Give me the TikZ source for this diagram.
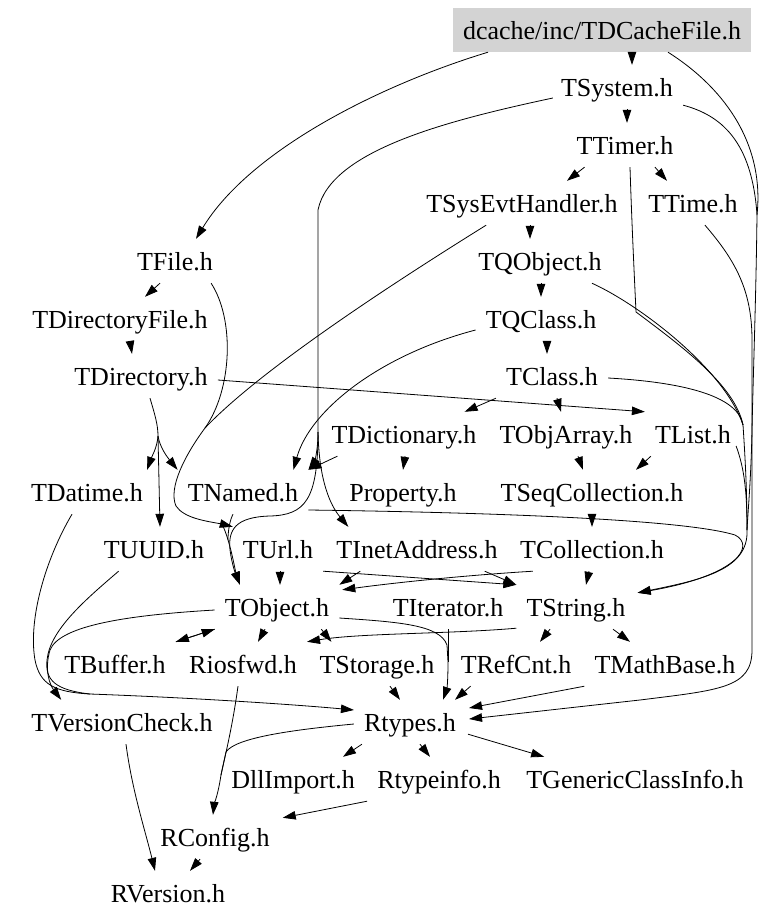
\documentclass[tikz,border=0pt]{standalone}
\usepackage{fontspec}
\setmainfont{Liberation Serif}
\usetikzlibrary{arrows.meta,calc}
\definecolor{dcgray}{RGB}{211,211,211}
\begin{document}
\begin{tikzpicture}[x=1pt,y=-1pt,
  lbl/.style={inner xsep=10pt, inner ysep=0pt, minimum height=44pt, text height=20pt, text depth=2pt, font=\fontsize{26}{30}\selectfont},
  e/.style={draw=black, line width=0.8pt, -{Triangle[length=13pt,width=8.5pt]}},
  ln/.style={draw=black, line width=0.8pt}]
\useasboundingbox (0,0) rectangle (779,921);
\fill[white] (0,0) rectangle (779,921);
% nodes
\node[lbl,fill=dcgray] (dc) at (602,30) {dcache/inc/TDCacheFile.h};
\node[lbl] (sys) at (617,87) {TSystem.h};
\node[lbl] (timer) at (625,145) {TTimer.h};
\node[lbl] (sev) at (522,203) {TSysEvtHandler.h};
\node[lbl] (ttime) at (693,203) {TTime.h};
\node[lbl] (tfile) at (175,261) {TFile.h};
\node[lbl] (qobj) at (540,261) {TQObject.h};
\node[lbl] (dirfile) at (120,319) {TDirectoryFile.h};
\node[lbl] (qclass) at (541,319) {TQClass.h};
\node[lbl] (dir) at (141,376) {TDirectory.h};
\node[lbl] (tclass) at (552,376) {TClass.h};
\node[lbl] (dict) at (404,434) {TDictionary.h};
\node[lbl] (objarr) at (566,434) {TObjArray.h};
\node[lbl] (tlist) at (693,434) {TList.h};
\node[lbl] (datime) at (87,492) {TDatime.h};
\node[lbl] (tnamed) at (243,492) {TNamed.h};
\node[lbl] (prop) at (403,492) {Property.h};
\node[lbl] (seqc) at (592,492) {TSeqCollection.h};
\node[lbl] (uuid) at (154,549) {TUUID.h};
\node[lbl] (turl) at (278,549) {TUrl.h};
\node[lbl] (inet) at (417,549) {TInetAddress.h};
\node[lbl] (coll) at (592,549) {TCollection.h};
\node[lbl] (tobj) at (277,607) {TObject.h};
\node[lbl] (iter) at (448,607) {TIterator.h};
\node[lbl] (tstr) at (576,607) {TString.h};
\node[lbl] (buf) at (115,664) {TBuffer.h};
\node[lbl] (rios) at (243,664) {Riosfwd.h};
\node[lbl] (stor) at (377,664) {TStorage.h};
\node[lbl] (refcnt) at (516,664) {TRefCnt.h};
\node[lbl] (mathb) at (665,664) {TMathBase.h};
\node[lbl] (vcheck) at (122,722) {TVersionCheck.h};
\node[lbl] (rtypes) at (410,722) {Rtypes.h};
\node[lbl] (dll) at (293,779) {DllImport.h};
\node[lbl] (rtinfo) at (439,779) {Rtypeinfo.h};
\node[lbl] (gci) at (635,779) {TGenericClassInfo.h};
\node[lbl] (rconf) at (215,837) {RConfig.h};
\node[lbl] (rver) at (168,893) {RVersion.h};
% junctions where edges run together
\coordinate (rjA) at (757,215);
\coordinate (rjB) at (743,425);
\coordinate (rjC) at (747,530);
\coordinate (sysj) at (318,432);
\coordinate (lj) at (205,428);
\coordinate (lj2) at (222,524);
\coordinate (dj) at (158,436);
\coordinate (vj) at (90,694);
\coordinate (cj) at (221,775);
\coordinate (oj) at (448,662);
% top edges
\draw[e] ($(dc.south)+(30,0)$) -- ($(sys.north)+(15,0)$);
\draw[e] ($(dc.south)+(-114,0)$) .. controls (380,85) and (250,150) .. ($(tfile.north)+(21,0)$);
\draw[ln] ($(dc.south)+(66,0)$) .. controls (720,85) and (765,140) .. (rjA);
\draw[ln] ($(sys.south east)+(0,-4)$) .. controls (720,115) and (752,140) .. (rjA);
\draw[ln] (rjA) .. controls (756,300) and (753,380) .. (752,430) .. controls (751,480) and (748,510) .. (rjC);
\draw[ln] ($(sys.west)+(2,11)$) .. controls (450,120) and (330,150) .. (318,210) -- (sysj);
\draw[e] (sysj) .. controls (319,480) and (330,505) .. ($(inet.north west)+(22,0)$);
\draw[e] (sysj) .. controls (318,452) and (314,462) .. (tnamed.north east);
\draw[e] (sysj) .. controls (318,500) and (305,515) .. (270,516) .. controls (235,517) and (228,530) .. (230,550) .. controls (232,565) and (236,575) .. ($(tobj.north)+(-37,0)$);
\draw[e] ($(sys.south)+(10,0)$) -- ($(timer.north)+(2,0)$);
\draw[e] ($(timer.south west)+(18,0)$) -- ($(sev.north)+(45,0)$);
\draw[e] ($(timer.south)+(30,0)$) -- ($(ttime.north)+(-26,0)$);
\draw[ln] ($(timer.south)+(5,0)$) .. controls (632,230) and (635,290) .. (636,312) .. controls (680,345) and (735,385) .. (rjB);
\draw[e] ($(sev.south)+(8,0)$) -- ($(qobj.north)+(-10,0)$);
\draw[ln] ($(sev.south west)+(70,0)$) .. controls (390,285) and (260,370) .. (lj);
\draw[ln] ($(tfile.south east)+(-12,0)$) .. controls (235,320) and (232,390) .. (lj);
\draw[ln] (lj) .. controls (185,455) and (168,488) .. (176,506) .. controls (184,518) and (205,521) .. (lj2);
\draw[e] (lj2) -- (turl.north west);
\draw[e] (lj2) .. controls (230,540) and (235,570) .. ($(tobj.north)+(-37,0)$);
\draw[e] ($(ttime.south)+(12,0)$) .. controls (735,260) and (752,290) .. (752,340) -- (752,650) .. controls (752,688) and (720,690) .. (640,700) -- ($(rtypes.east)+(3,-3)$);
\draw[e] ($(qobj.south)+(1,0)$) -- (qclass.north);
\draw[ln] ($(qobj.south east)+(-20,0)$) .. controls (640,305) and (725,370) .. (rjB);
\draw[e] ($(qclass.south)+(6,0)$) -- ($(tclass.north)+(-5,0)$);
\draw[e] ($(qclass.west)+(0,11)$) .. controls (380,355) and (310,410) .. ($(tnamed.north east)+(-15,0)$);
\draw[e] (tclass.south west) -- ($(dict.north east)+(-22,0)$);
\draw[e] ($(tclass.south)+(5,0)$) -- ($(objarr.north)+(-5,0)$);
\draw[ln] ($(tclass.east)+(0,2)$) .. controls (680,382) and (738,395) .. (rjB);
\draw[ln] (rjB) .. controls (746,470) and (747,500) .. (rjC);
\draw[e] (rjC) .. controls (749,570) and (700,580) .. ($(tstr.north east)+(2,8)$);
\draw[e] ($(tfile.south)+(-15,0)$) -- ($(dirfile.north)+(25,0)$);
\draw[e] ($(dirfile.south)+(10,0)$) -- ($(dir.north)+(-9,0)$);
\draw[e] ($(dir.east)+(0,4)$) -- (tlist.north west);
\draw[ln] ($(dir.south)+(9,0)$) .. controls (155,415) and (158,425) .. (dj);
\draw[e] (dj) .. controls (157,448) and (152,456) .. ($(datime.north east)+(-6,0)$);
\draw[e] (dj) .. controls (160,448) and (168,458) .. (tnamed.north west);
\draw[e] (dj) -- ($(uuid.north)+(6,0)$);
% middle
\draw[e] ($(dict.south west)+(16,0)$) -- (tnamed.north east);
\draw[e] ($(dict.south)+(1,0)$) -- (prop.north);
\draw[e] ($(objarr.south)+(12,0)$) -- ($(seqc.north)+(-9,0)$);
\draw[e] ($(tlist.south west)+(6,0)$) -- ($(seqc.north)+(44,0)$);
\draw[ln] ($(tlist.east)+(-5,12)$) .. controls (745,470) and (747,495) .. (rjC);
\draw[e] (seqc.south) -- (coll.north);
\draw[e] ($(tnamed.east)+(0,18)$) .. controls (460,512) and (680,518) .. (735,535) .. controls (755,545) and (740,575) .. ($(tstr.north east)+(2,8)$);
\draw[ln] ($(tnamed.south)+(-10,0)$) .. controls (230,520) and (228,530) .. (228,540);
\draw[e] ($(turl.south)+(2,0)$) -- ($(tobj.north)+(3,0)$);
\draw[e] (turl.south east) -- (tstr.north west);
\draw[e] ($(inet.south west)+(34,0)$) -- (tobj.north east);
\draw[e] ($(inet.south east)+(-23,0)$) -- (tstr.north west);
\draw[e] ($(coll.south west)+(23,0)$) .. controls (470,575) and (400,582) .. ($(tobj.north east)+(3,5)$);
\draw[e] ($(coll.south)+(-3,0)$) -- ($(tstr.north)+(10,0)$);
% lower
\draw[e] (tobj.south west) -- (buf.north east);
\draw[e] (buf.north east) -- (tobj.south west);
\draw[e] ($(tobj.south)+(-12,0)$) -- ($(rios.north)+(15,0)$);
\draw[e] ($(tobj.south east)+(-18,0)$) -- ($(stor.north west)+(22,0)$);
\draw[e] ($(tobj.west)+(0,3)$) .. controls (130,615) and (60,625) .. (50,650) .. controls (44,670) and (50,685) .. ($(vcheck.north west)+(40,0)$);
\draw[ln] ($(tobj.east)+(0,11)$) .. controls (400,622) and (440,625) .. (447,645) -- (oj);
\draw[ln] (iter.south) -- (oj);
\draw[e] (oj) .. controls (448,680) and (447,688) .. ($(rtypes.north)+(33,0)$);
\draw[e] ($(tstr.south west)+(0,-1)$) .. controls (450,634) and (360,633) .. (rios.north east);
\draw[e] ($(tstr.south)+(-26,0)$) -- ($(refcnt.north)+(24,0)$);
\draw[e] ($(tstr.south)+(37,0)$) -- ($(mathb.north)+(-35,0)$);
\draw[ln] ($(rios.south)+(-5,0)$) .. controls (232,730) and (224,760) .. (cj);
\draw[ln] ($(rtypes.west)+(0,2)$) .. controls (290,730) and (235,738) .. (226,752) -- (cj);
\draw[e] (cj) .. controls (218,795) and (214,805) .. ($(rconf.north)+(-2,0)$);
\draw[e] ($(stor.south)+(13,0)$) -- ($(rtypes.north)+(-10,0)$);
\draw[e] ($(refcnt.south west)+(20,0)$) -- ($(rtypes.north)+(45,0)$);
\draw[e] (mathb.south west) -- ($(rtypes.east)+(3,-14)$);
\draw[ln] ($(datime.south)+(-15,0)$) .. controls (45,560) and (28,620) .. (35,660) .. controls (40,685) and (55,692) .. (vj);
\draw[ln] ($(uuid.south west)+(25,0)$) .. controls (85,600) and (50,630) .. (47,660) .. controls (45,680) and (55,690) .. (vj);
\draw[e] (vj) .. controls (200,698) and (300,705) .. ($(rtypes.west)+(0,-12)$);
\draw[e] ($(rtypes.south west)+(8,0)$) -- ($(dll.north)+(50,0)$);
\draw[e] ($(rtypes.south)+(10,0)$) -- ($(rtinfo.north)+(-9,0)$);
\draw[e] ($(rtypes.south east)+(2,-10)$) -- ($(gci.north west)+(28,0)$);
\draw[e] (rtinfo.south west) -- ($(rconf.north east)+(3,3)$);
\draw[e] ($(rconf.south)+(-15,0)$) -- ($(rver.north)+(22,0)$);
\draw[e] ($(vcheck.south)+(4,0)$) .. controls (132,790) and (145,830) .. ($(rver.north)+(-13,0)$);
\end{tikzpicture}
\end{document}
